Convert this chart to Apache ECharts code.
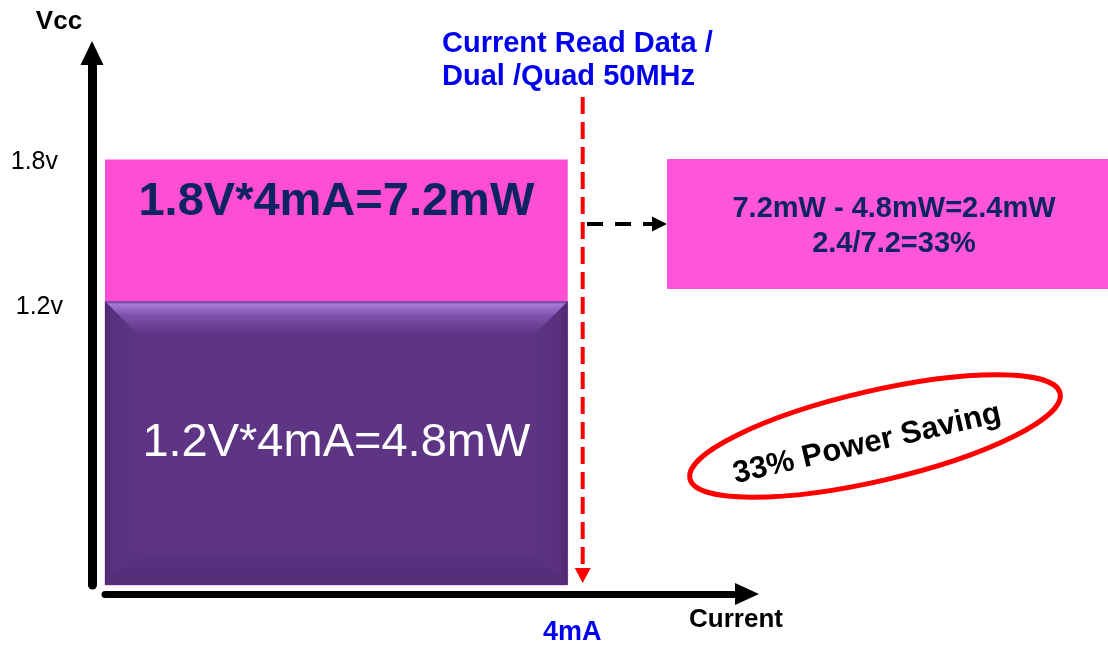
<!DOCTYPE html>
<html><head><meta charset="utf-8">
<script src="https://cdn.jsdelivr.net/npm/echarts@6/dist/echarts.min.js"></script>
<style>html,body{margin:0;padding:0;background:#fff}#c{width:1108px;height:645px}</style>
</head><body><div id="c"></div>
<script>
// ---- data ----
const voltageLevels = [1.8, 1.2];          // Vcc levels (V)
const voltageTickLabels = ['1.8v', '1.2v'];
const readCurrent = 4;                      // mA
const currentTickLabel = '4mA';
const titleLines = ['Current Read Data /', 'Dual /Quad 50MHz'];
const axisNames = ['Vcc', 'Current'];
const savingLabel = '33% Power Saving';

const FONT = '"Liberation Sans", Arial, Helvetica, sans-serif';
const NAVY = '#0d2460';
const BLUE = '#0000EE';

const pHigh = voltageLevels[0] * readCurrent;
const pLow = voltageLevels[1] * readCurrent;
const pDiff = pHigh - pLow;
const diffLines = [
  pHigh.toFixed(1) + 'mW - ' + pLow.toFixed(1) + 'mW=' + pDiff.toFixed(1) + 'mW',
  pDiff.toFixed(1) + '/' + pHigh.toFixed(1) + '=' + Math.round(pDiff / pHigh * 100) + '%'
];

// blocks: [xStart, xEnd, yLow, yHigh, kind]
const blocks = [
  [0, readCurrent, voltageLevels[1], voltageLevels[0], 0],
  [0, readCurrent, 0, voltageLevels[1], 1]
];

function renderBlock(params, api) {
  const kind = api.value(4);
  const tl = api.coord([api.value(0), api.value(3)]);
  const br = api.coord([api.value(1), api.value(2)]);
  const L = tl[0], T = tl[1], R = br[0], B = br[1];
  const W = R - L, H = B - T;
  const children = [];
  if (kind === 0) {
    children.push({type: 'rect', shape: {x: L, y: T, width: W, height: H}, style: {fill: '#FF4DD4'}});
    const v = voltageLevels[0];
    children.push({type: 'text', x: (L + R) / 2, y: T + 43, style: {
      text: v.toFixed(1) + 'V*' + readCurrent + 'mA=' + (v * readCurrent).toFixed(1) + 'mW',
      font: 'bold 47px ' + FONT, fill: NAVY, align: 'center', verticalAlign: 'middle',
      textAlign: 'center', textVerticalAlign: 'middle'}});
  } else {
    const b = 32;
    children.push({type: 'rect', shape: {x: L, y: T, width: W, height: H}, style: {fill: '#5E3585', stroke: 'rgba(230,80,210,0.55)', lineWidth: 1}});
    children.push({type: 'polygon', shape: {points: [[L, T], [L + b, T + b], [L + b, B - b], [L, B]]},
      style: {fill: {type: 'linear', x: 0, y: 0, x2: 1, y2: 0, colorStops: [{offset: 0, color: '#4E2A72'}, {offset: 0.25, color: '#58317F'}, {offset: 1, color: '#5C3484'}]}}});
    children.push({type: 'polygon', shape: {points: [[R, T], [R - b, T + b], [R - b, B - b], [R, B]]},
      style: {fill: {type: 'linear', x: 1, y: 0, x2: 0, y2: 0, colorStops: [{offset: 0, color: '#50296F'}, {offset: 0.25, color: '#58307E'}, {offset: 1, color: '#5C3484'}]}}});
    children.push({type: 'polygon', shape: {points: [[L, B], [L + b, B - b], [R - b, B - b], [R, B]]},
      style: {fill: {type: 'linear', x: 0, y: 1, x2: 0, y2: 0, colorStops: [{offset: 0, color: '#532C77'}, {offset: 1, color: '#5B3383'}]}}});
    children.push({type: 'polygon', shape: {points: [[L, T], [R, T], [R - b, T + b], [L + b, T + b]]},
      style: {fill: {type: 'linear', x: 0, y: 0, x2: 0, y2: 1, colorStops: [{offset: 0, color: '#6E3E9E'}, {offset: 0.1, color: '#A779D3'}, {offset: 0.45, color: '#7D52AE'}, {offset: 1, color: '#5F3687'}]}}});
    const v = voltageLevels[1];
    children.push({type: 'text', x: (L + R) / 2, y: (T + B) / 2, style: {
      text: v.toFixed(1) + 'V*' + readCurrent + 'mA=' + (v * readCurrent).toFixed(1) + 'mW',
      font: '47px ' + FONT, fill: '#FFFFFF', align: 'center', verticalAlign: 'middle',
      textAlign: 'center', textVerticalAlign: 'middle'}});
  }
  return {type: 'group', children: children};
}

function renderMarker(params, api) {
  const p = api.coord([api.value(0), 0]);
  const x = p[0] + 15;
  const tip = p[1] - 2;
  return {type: 'group', children: [
    {type: 'line', shape: {x1: x, y1: 97, x2: x, y2: tip - 14}, style: {stroke: '#FF0000', lineWidth: 4, lineDash: [17, 8]}},
    {type: 'polygon', shape: {points: [[x - 8, tip - 15], [x + 8, tip - 15], [x, tip]]}, style: {fill: '#FF0000'}}
  ]};
}

const chart = echarts.init(document.getElementById('c'), null, {renderer: 'canvas'});
const deg = Math.PI / 180;
chart.setOption({
  animation: false,
  backgroundColor: '#ffffff',
  grid: {left: 105, right: 361, top: 53, bottom: 60, containLabel: false, outerBoundsMode: 'none'},
  xAxis: {
    type: 'value', min: 0, max: 5.55, interval: 1, offset: 9,
    splitLine: {show: false}, axisTick: {show: false},
    axisLine: {show: true, onZero: false, symbol: ['none', 'triangle'], symbolSize: [22, 24], lineStyle: {color: '#000', width: 7}},
    axisLabel: {margin: 25, color: BLUE, fontWeight: 'bold', fontSize: 27, fontFamily: FONT, padding: [0, 0, 0, 9],
      formatter: v => (Math.abs(v - readCurrent) < 1e-6 ? currentTickLabel : '')}
  },
  yAxis: {
    type: 'value', min: 0, max: 2.25, interval: 0.6, offset: 13,
    splitLine: {show: false}, axisTick: {show: false},
    axisLine: {show: true, onZero: false, symbol: ['none', 'triangle'], symbolSize: [23, 24], lineStyle: {color: '#000', width: 9}},
    axisLabel: {margin: 29, color: '#000', fontSize: 25, fontFamily: FONT, showMaxLabel: false,
      rich: {
        a: {fontSize: 25, fontFamily: FONT, color: '#000', padding: [6, 5, 0, 0]},
        b: {fontSize: 25, fontFamily: FONT, color: '#000', padding: [12, 0, 0, 0]}
      },
      formatter: v => {
        for (let i = 0; i < voltageLevels.length; i++) if (Math.abs(v - voltageLevels[i]) < 1e-6) return '{' + (i === 0 ? 'a' : 'b') + '|' + voltageTickLabels[i] + '}';
        return '';
      }}
  },
  series: [
    {type: 'custom', name: 'power', renderItem: renderBlock, data: blocks, clip: false, z: 2},
    {type: 'custom', name: 'current', renderItem: renderMarker, data: [[readCurrent]], clip: false, z: 3}
  ],
  graphic: [
    {type: 'text', x: 442, y: 44, style: {text: titleLines[0], font: 'bold 29px ' + FONT, fill: BLUE, align: 'left', verticalAlign: 'middle', textAlign: 'left', textVerticalAlign: 'middle'}},
    {type: 'text', x: 442, y: 77, style: {text: titleLines[1], font: 'bold 29px ' + FONT, fill: BLUE, align: 'left', verticalAlign: 'middle', textAlign: 'left', textVerticalAlign: 'middle'}},
    {type: 'text', x: 59, y: 22, style: {text: axisNames[0], font: 'bold 26px ' + FONT, fill: '#000', align: 'center', verticalAlign: 'middle', textAlign: 'center', textVerticalAlign: 'middle'}},
    {type: 'text', x: 736, y: 620, style: {text: axisNames[1], font: 'bold 26px ' + FONT, fill: '#000', align: 'center', verticalAlign: 'middle', textAlign: 'center', textVerticalAlign: 'middle'}},
    {type: 'rect', shape: {x: 667, y: 159, width: 441, height: 130}, style: {fill: '#FF55DA'}},
    {type: 'text', x: 894, y: 209, style: {text: diffLines[0], font: 'bold 29px ' + FONT, fill: NAVY, align: 'center', verticalAlign: 'middle', textAlign: 'center', textVerticalAlign: 'middle'}},
    {type: 'text', x: 894, y: 244, style: {text: diffLines[1], font: 'bold 29px ' + FONT, fill: NAVY, align: 'center', verticalAlign: 'middle', textAlign: 'center', textVerticalAlign: 'middle'}},
    {type: 'line', shape: {x1: 587, y1: 224, x2: 653, y2: 224}, style: {stroke: '#000', lineWidth: 4, lineDash: [16, 12]}},
    {type: 'polygon', shape: {points: [[652, 216.5], [652, 231.5], [667, 224]]}, style: {fill: '#000'}},
    {type: 'ellipse', x: 875, y: 436, rotation: 13 * deg, shape: {cx: 0, cy: 0, rx: 190, ry: 45}, style: {fill: 'none', stroke: '#FF0000', lineWidth: 5}},
    {type: 'text', x: 867, y: 444, rotation: 13 * deg, style: {text: savingLabel, font: 'bold 31px ' + FONT, fill: '#000', align: 'center', verticalAlign: 'middle', textAlign: 'center', textVerticalAlign: 'middle'}}
  ]
});
</script>
</body></html>
